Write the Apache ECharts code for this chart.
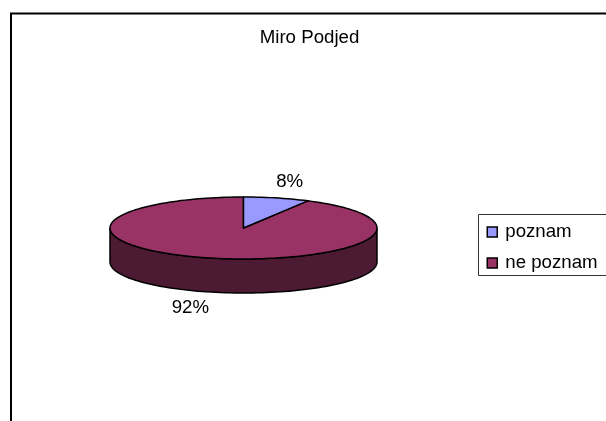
<!DOCTYPE html>
<html><head><meta charset="utf-8">
<style>html,body{margin:0;padding:0;background:#fff}#c{width:606px;height:421px}</style>
<script src="https://cdn.jsdelivr.net/npm/echarts@6/dist/echarts.min.js"></script>
</head><body><div id="c"></div>
<script>
var categories = ['poznam', 'ne poznam'];
var values = [8, 92];
var topColors = ['#9999FF', '#993366'];
var sideColors = ['#4D4D80', '#4D1A33'];
var labelTexts = ['8%', '92%'];
var labelOffsets = [[13, -16], [-20, 16]];

var FONT = '"Liberation Sans", Arial, sans-serif';
var FS = 18.67;
var cx = 243.5, cy = 228, rx = 133.5, ry = 31, depth = 34;
var total = values.reduce(function (a, b) { return a + b; }, 0);

function pt(deg, dy) {
  var t = deg * Math.PI / 180;
  return [cx + rx * Math.sin(t), cy - ry * Math.cos(t) + (dy || 0)];
}
function arc(a, b, dy) {
  var out = [], n = Math.max(2, Math.ceil(Math.abs(b - a) / 2));
  for (var i = 0; i <= n; i++) out.push(pt(a + (b - a) * i / n, dy));
  return out;
}
function makeSeries(idx) {
  var start = 0;
  for (var k = 0; k < idx; k++) start += values[k] / total * 360;
  var end = start + values[idx] / total * 360;
  return {
    type: 'custom',
    name: categories[idx],
    coordinateSystem: 'none',
    z: 2,
    itemStyle: { color: topColors[idx] },
    data: [values[idx]],
    renderItem: function () {
      var children = [];
      var a = Math.max(start, 90), b = Math.min(end, 270);
      if (b > a) {
        var pts = arc(a, b, 0).concat(arc(b, a, depth));
        children.push({
          type: 'polygon', shape: { points: pts },
          style: { fill: sideColors[idx], stroke: '#000', lineWidth: 1.5 }
        });
      }
      var facePts = [[cx, cy]].concat(arc(start, end, 0));
      children.push({
        type: 'polygon', shape: { points: facePts },
        style: { fill: topColors[idx], stroke: '#000', lineWidth: 1.5, lineJoin: 'round' }
      });
      var mid = (start + end) / 2;
      var onSide = mid > 90 && mid < 270;
      var p = pt(mid, onSide ? depth : 0);
      children.push({
        type: 'text',
        style: {
          x: p[0] + labelOffsets[idx][0], y: p[1] + labelOffsets[idx][1],
          text: labelTexts[idx], fill: '#000', font: FS + 'px ' + FONT,
          textAlign: 'center', textVerticalAlign: 'middle'
        }
      });
      return { type: 'group', children: children };
    }
  };
}

var chart = echarts.init(document.getElementById('c'), null, { renderer: 'canvas' });
chart.setOption({
  animation: false,
  backgroundColor: '#fff',
  color: topColors,
  title: {
    text: 'Miro Podjed', left: 304.5, top: 23, textAlign: 'center',
    textStyle: { fontFamily: FONT, fontSize: FS, fontWeight: 'normal', color: '#000' }
  },
  legend: {
    data: categories, orient: 'vertical', left: 478.5, top: 214.5,
    padding: [8, 20, 3, 8], itemGap: 12, itemWidth: 10, itemHeight: 10, icon: 'rect',
    borderColor: '#333', borderWidth: 1, backgroundColor: '#fff',
    itemStyle: { borderColor: '#000', borderWidth: 1.5 },
    textStyle: { fontFamily: FONT, fontSize: FS, color: '#000', padding: [1, 0, 0, 3] }
  },
  graphic: [
    { type: 'line', shape: { x1: 10, y1: 13.5, x2: 606, y2: 13.5 }, style: { stroke: '#000', lineWidth: 2 } },
    { type: 'line', shape: { x1: 11, y1: 13, x2: 11, y2: 421 }, style: { stroke: '#000', lineWidth: 2 } }
  ],
  series: [makeSeries(1), makeSeries(0)]
});
</script></body></html>
